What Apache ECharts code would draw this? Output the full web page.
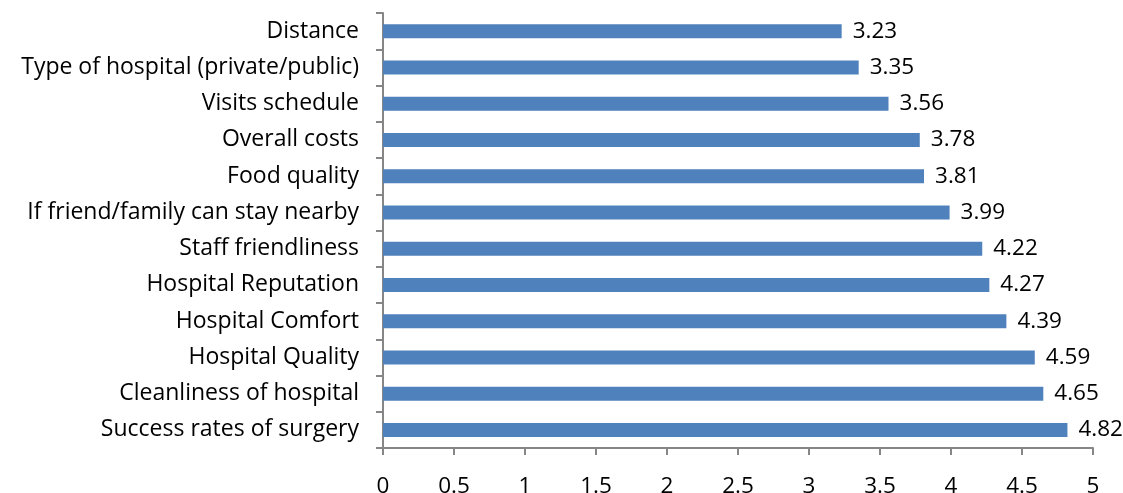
<!DOCTYPE html>
<html>
<head>
<meta charset="utf-8">
<script src="https://cdn.jsdelivr.net/npm/echarts@6/dist/echarts.min.js"></script>
<style>
  html, body { margin: 0; padding: 0; background: #fff; }
  #chart { width: 1123px; height: 493px; }
</style>
</head>
<body>
<div id="chart"></div>
<script>
// Factors listed top to bottom
const categories = [
  'Distance',
  'Type of hospital (private/public)',
  'Visits schedule',
  'Overall costs',
  'Food quality',
  'If friend/family can stay nearby',
  'Staff friendliness',
  'Hospital Reputation',
  'Hospital Comfort',
  'Hospital Quality',
  'Cleanliness of hospital',
  'Success rates of surgery'
];
const scores = [3.23, 3.35, 3.56, 3.78, 3.81, 3.99, 4.22, 4.27, 4.39, 4.59, 4.65, 4.82];
const xTicks = [0, 0.5, 1, 1.5, 2, 2.5, 3, 3.5, 4, 4.5, 5];

const fontFamily = '"Open Sans", "Noto Sans", sans-serif';
const axisGray = '#868686';

const chart = echarts.init(document.getElementById('chart'));
chart.setOption({
  animation: false,
  grid: {
    left: 383, right: 30, top: 13, bottom: 45,
    containLabel: false,
    outerBoundsMode: 'none'
  },
  xAxis: {
    type: 'value',
    min: 0,
    max: 5,
    interval: 0.5,
    splitLine: { show: false },
    axisLine: { show: true, lineStyle: { color: axisGray, width: 2 } },
    axisTick: { show: true, length: 7, lineStyle: { color: axisGray, width: 2 } },
    axisLabel: {
      color: '#000',
      fontFamily: fontFamily,
      fontSize: 22.5,
      margin: 27,
      formatter: v => xTicks.includes(v) ? String(v) : ''
    }
  },
  yAxis: {
    type: 'category',
    data: categories,
    inverse: true,
    axisLine: { show: true, lineStyle: { color: axisGray, width: 2 } },
    axisTick: { show: true, length: 7, lineStyle: { color: axisGray, width: 2 } },
    axisLabel: {
      color: '#000',
      fontFamily: fontFamily,
      fontSize: 23,
      margin: 24
    }
  },
  series: [{
    type: 'bar',
    data: scores,
    barWidth: 14,
    itemStyle: { color: '#4F81BD' },
    label: {
      show: true,
      position: 'right',
      distance: 11,
      color: '#000',
      fontFamily: fontFamily,
      fontSize: 22.5,
      formatter: p => p.value.toFixed(2)
    }
  }]
});
</script>
</body>
</html>
